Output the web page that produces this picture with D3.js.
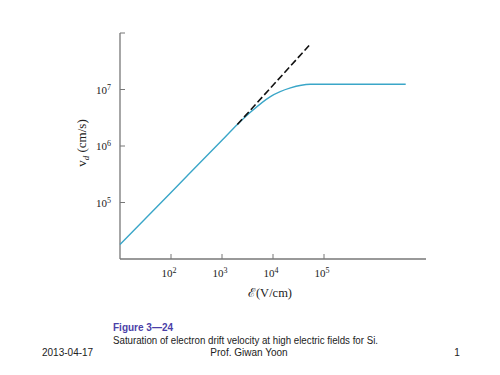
<!DOCTYPE html>
<html>
<head>
<meta charset="utf-8">
<script src="https://cdn.jsdelivr.net/npm/d3@7"></script>
<style>
  body { margin: 0; background: #fff; }
  .tick-lbl { font-family: "Liberation Serif", serif; font-size: 11px; fill: #222; }
  .foot { font-family: "Liberation Sans", Arial, sans-serif; font-size: 10px; fill: #222; }
</style>
</head>
<body>
<div id="chart"></div>
<script>
// drift velocity curve (E in V/cm, v in cm/s)
const field = [10, 100, 1000, 2000, 3600, 8900, 22000, 54000, 4000000];
const velocity = [1.8e4, 1.51e5, 1.26e6, 2.4e6, 3.95e6, 7.5e6, 1.07e7, 1.24e7, 1.24e7];
// low-field asymptote v = mu*E (dashed)
const dashField = [2000, 51000];
const dashVelocity = [2.4e6, 6.0e7];
const xTicks = [1e2, 1e3, 1e4, 1e5];
const yTicks = [1e5, 1e6, 1e7, 1e8];
const yTickLabels = ["5", "6", "7", ""];
const xTickLabels = ["2", "3", "4", "5"];

const width = 500, height = 375;
const svg = d3.select("#chart").append("svg")
  .attr("width", width).attr("height", height);

const x = d3.scaleLog().domain([1e1, 1e7]).range([120, 426]);
const y = d3.scaleLog().domain([1e4, 1e8]).range([259, 33]);

// axes
const axisColor = "#777";
svg.append("line").attr("x1", x(1e1)).attr("x2", x(1e1))
  .attr("y1", y(1e4)).attr("y2", y(1e8)).attr("stroke", axisColor).attr("stroke-width", 1.3);
svg.append("line").attr("x1", x(1e1)).attr("x2", x(1e7))
  .attr("y1", y(1e4)).attr("y2", y(1e4)).attr("stroke", axisColor).attr("stroke-width", 1.3);

// x ticks (inward)
xTicks.forEach((t, i) => {
  svg.append("line").attr("x1", x(t)).attr("x2", x(t))
    .attr("y1", y(1e4)).attr("y2", y(1e4) - 5).attr("stroke", axisColor);
  const lbl = svg.append("text").attr("class", "tick-lbl")
    .attr("x", x(t) - 2).attr("y", y(1e4) + 18).attr("text-anchor", "middle");
  lbl.append("tspan").text("10");
  lbl.append("tspan").attr("dy", -4).attr("font-size", "8px").text(xTickLabels[i]);
});

// y ticks (inward)
yTicks.forEach((t, i) => {
  svg.append("line").attr("x1", x(1e1)).attr("x2", x(1e1) + 5)
    .attr("y1", y(t)).attr("y2", y(t)).attr("stroke", axisColor);
  if (yTickLabels[i]) {
    const lbl = svg.append("text").attr("class", "tick-lbl")
      .attr("x", x(1e1) - 24).attr("y", y(t) + 4);
    lbl.append("tspan").text("10");
    lbl.append("tspan").attr("dy", -4).attr("font-size", "8px").text(yTickLabels[i]);
  }
});

// axis titles
svg.append("text").attr("class", "tick-lbl")
  .attr("x", 270).attr("y", 297).attr("text-anchor", "middle")
  .style("font-size", "12.5px").text("\u2130(V/cm)");

const yl = svg.append("text").attr("class", "tick-lbl")
  .attr("transform", "translate(86,143) rotate(-90)")
  .attr("text-anchor", "middle").style("font-size", "13px");
yl.append("tspan").text("v");
yl.append("tspan").attr("dy", 3).style("font-size", "9px").style("font-style", "italic").text("d");
yl.append("tspan").attr("dy", -3).text(" (cm/s)");

// curves
svg.append("path")
  .datum(field.map((e, i) => [e, velocity[i]]))
  .attr("d", d3.line().x(d => x(d[0])).y(d => y(d[1])).curve(d3.curveMonotoneX))
  .attr("fill", "none").attr("stroke", "#3aa6c8").attr("stroke-width", 1.4);

svg.append("path")
  .datum(dashField.map((e, i) => [e, dashVelocity[i]]))
  .attr("d", d3.line().x(d => x(d[0])).y(d => y(d[1])))
  .attr("fill", "none").attr("stroke", "#111").attr("stroke-width", 1.6)
  .attr("stroke-dasharray", "7,3");

// footer
svg.append("text").attr("class", "foot").attr("x", 113).attr("y", 331)
  .style("font-weight", "bold").style("fill", "#4b3fa8").text("Figure 3\u201424");
svg.append("text").attr("class", "foot").attr("x", 113).attr("y", 344)
  .attr("textLength", 265).attr("lengthAdjust", "spacingAndGlyphs")
  .text("Saturation of electron drift velocity at high electric fields for Si.");
svg.append("text").attr("class", "foot").attr("x", 42).attr("y", 356)
  .text("2013-04-17");
svg.append("text").attr("class", "foot").attr("x", 249).attr("y", 356)
  .attr("text-anchor", "middle").text("Prof. Giwan Yoon");
svg.append("text").attr("class", "foot").attr("x", 457).attr("y", 356)
  .attr("text-anchor", "middle").text("1");
</script>
</body>
</html>
